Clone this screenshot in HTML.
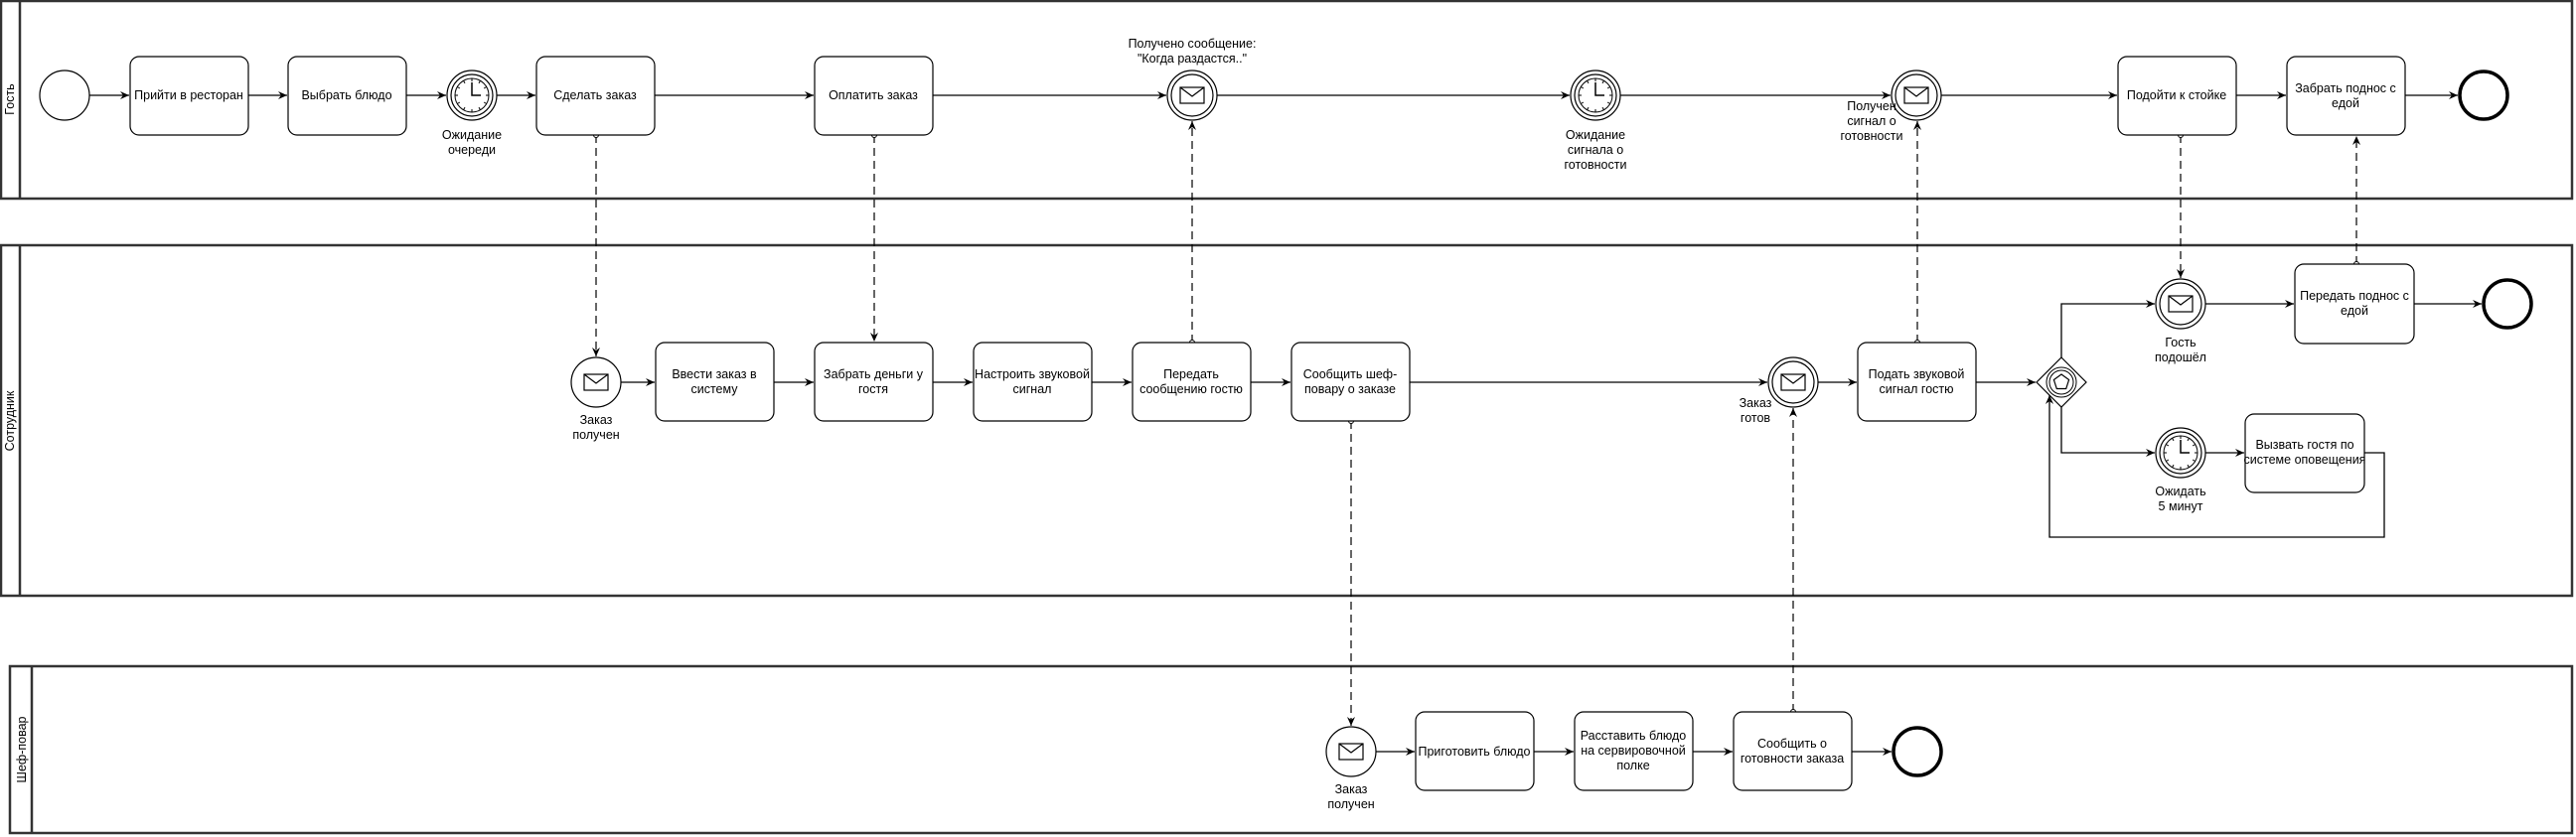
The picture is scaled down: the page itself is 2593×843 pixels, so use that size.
<!DOCTYPE html>
<html><head><meta charset="utf-8"><style>
html,body{margin:0;padding:0;background:#fff;}
svg{display:block;}
text{font-family:"Liberation Sans","DejaVu Sans",sans-serif;font-size:12.5px;fill:#000;}
</style></head><body>
<svg width="2593" height="843" viewBox="0 0 2593 843" xmlns="http://www.w3.org/2000/svg">
<defs>
<marker id="a" markerWidth="10" markerHeight="10" refX="9" refY="5" orient="auto" markerUnits="userSpaceOnUse"><path d="M0,1 L9,5 L0,9 L3,5 z" fill="#000"/></marker>
<marker id="o" markerWidth="8" markerHeight="8" refX="4" refY="4" markerUnits="userSpaceOnUse"><circle cx="4" cy="4" r="2.5" fill="#fff" stroke="#000"/></marker>
<g id="env"><rect x="-12" y="-8" width="24" height="16" fill="#fff" stroke="#000" stroke-width="1.2"/><path d="M-12,-8 L0,1 L12,-8" fill="none" stroke="#000" stroke-width="1.2"/></g>
<g id="clk"><circle r="17" fill="#fff" stroke="#000"/><path d="M0,-13 L0,0 L9,0" fill="none" stroke="#000" stroke-width="1.5"/>
<g stroke="#000"><line x1="0" y1="-17" x2="0" y2="-14"/><line x1="0" y1="17" x2="0" y2="14"/><line x1="-17" y1="0" x2="-14" y2="0"/><line x1="17" y1="0" x2="14" y2="0"/><line x1="8.5" y1="-14.7" x2="7" y2="-12.1"/><line x1="-8.5" y1="14.7" x2="-7" y2="12.1"/><line x1="14.7" y1="8.5" x2="12.1" y2="7"/><line x1="-14.7" y1="-8.5" x2="-12.1" y2="-7"/><line x1="-8.5" y1="-14.7" x2="-7" y2="-12.1"/><line x1="8.5" y1="14.7" x2="7" y2="12.1"/><line x1="-14.7" y1="8.5" x2="-12.1" y2="7"/><line x1="14.7" y1="-8.5" x2="12.1" y2="-7"/></g></g>
<g id="ring"><circle r="25" fill="#fff" stroke="#000" stroke-width="1.2"/><circle r="21" fill="none" stroke="#000" stroke-width="1.2"/></g>
</defs>

<g fill="none" stroke="#333" stroke-width="2.5">
<rect x="1" y="1" width="2588" height="199"/><line x1="20" y1="1" x2="20" y2="200"/>
<rect x="1" y="247" width="2588" height="353"/><line x1="20" y1="247" x2="20" y2="600"/>
<rect x="10" y="671" width="2579" height="168"/><line x1="32" y1="671" x2="32" y2="839"/>
</g>
<text transform="translate(14,100) rotate(-90)" text-anchor="middle">Гость</text>
<text transform="translate(14,424) rotate(-90)" text-anchor="middle">Сотрудник</text>
<text transform="translate(26,755) rotate(-90)" text-anchor="middle">Шеф-повар</text>

<g stroke="#000" stroke-width="1.3" fill="none" marker-end="url(#a)">
<line x1="90" y1="96" x2="130" y2="96"/>
<line x1="250" y1="96" x2="289" y2="96"/>
<line x1="409" y1="96" x2="449" y2="96"/>
<line x1="500" y1="96" x2="539" y2="96"/>
<line x1="659" y1="96" x2="819" y2="96"/>
<line x1="939" y1="96" x2="1174" y2="96"/>
<line x1="1225" y1="96" x2="1580" y2="96"/>
<line x1="1631" y1="96" x2="1903" y2="96"/>
<line x1="1954" y1="96" x2="2131" y2="96"/>
<line x1="2251" y1="96" x2="2301" y2="96"/>
<line x1="2421" y1="96" x2="2474" y2="96"/>
<line x1="625" y1="385" x2="659" y2="385"/>
<line x1="779" y1="385" x2="819" y2="385"/>
<line x1="939" y1="385" x2="979" y2="385"/>
<line x1="1099" y1="385" x2="1139" y2="385"/>
<line x1="1259" y1="385" x2="1299" y2="385"/>
<line x1="1419" y1="385" x2="1779" y2="385"/>
<line x1="1830" y1="385" x2="1869" y2="385"/>
<line x1="1989" y1="385" x2="2049" y2="385"/>
<polyline points="2075,360 2075,306 2169,306"/>
<polyline points="2075,410 2075,456 2169,456"/>
<line x1="2220" y1="306" x2="2309" y2="306"/>
<line x1="2430" y1="306" x2="2498" y2="306"/>
<line x1="2220" y1="456" x2="2259" y2="456"/>
<polyline points="2380,456 2400,456 2400,541 2063,541 2063,398"/>
<line x1="1385" y1="757" x2="1424" y2="757"/>
<line x1="1544" y1="757" x2="1584" y2="757"/>
<line x1="1704" y1="757" x2="1744" y2="757"/>
<line x1="1864" y1="757" x2="1904" y2="757"/>
</g>

<g stroke="#000" stroke-width="1.2" fill="none" stroke-dasharray="8,5" marker-start="url(#o)" marker-end="url(#a)">
<line x1="600" y1="136" x2="600" y2="359"/>
<line x1="880" y1="136" x2="880" y2="344"/>
<line x1="1200" y1="345" x2="1200" y2="122"/>
<line x1="1930" y1="345" x2="1930" y2="122"/>
<line x1="2195" y1="136" x2="2195" y2="280"/>
<line x1="2372" y1="266" x2="2372" y2="137"/>
<line x1="1360" y1="424" x2="1360" y2="731"/>
<line x1="1805" y1="717" x2="1805" y2="411"/>
</g>

<g fill="#fff" stroke="#000" stroke-width="1.2">
<rect x="131" y="57" width="119" height="79" rx="9"/>
<rect x="290" y="57" width="119" height="79" rx="9"/>
<rect x="540" y="57" width="119" height="79" rx="9"/>
<rect x="820" y="57" width="119" height="79" rx="9"/>
<rect x="2132" y="57" width="119" height="79" rx="9"/>
<rect x="2302" y="57" width="119" height="79" rx="9"/>
<rect x="660" y="345" width="119" height="79" rx="9"/>
<rect x="820" y="345" width="119" height="79" rx="9"/>
<rect x="980" y="345" width="119" height="79" rx="9"/>
<rect x="1140" y="345" width="119" height="79" rx="9"/>
<rect x="1300" y="345" width="119" height="79" rx="9"/>
<rect x="1870" y="345" width="119" height="79" rx="9"/>
<rect x="2310" y="266" width="120" height="80" rx="9"/>
<rect x="2260" y="417" width="120" height="79" rx="9"/>
<rect x="1425" y="717" width="119" height="79" rx="9"/>
<rect x="1585" y="717" width="119" height="79" rx="9"/>
<rect x="1745" y="717" width="119" height="79" rx="9"/>
</g>
<g text-anchor="middle">
<text x="190" y="100">Прийти в ресторан</text>
<text x="349" y="100">Выбрать блюдо</text>
<text x="599" y="100">Сделать заказ</text>
<text x="879" y="100">Оплатить заказ</text>
<text x="2191" y="100">Подойти к стойке</text>
<text x="2361" y="93">Забрать поднос с</text><text x="2361" y="108">едой</text>
<text x="719" y="381">Ввести заказ в</text><text x="719" y="396">систему</text>
<text x="879" y="381">Забрать деньги у</text><text x="879" y="396">гостя</text>
<text x="1039" y="381">Настроить звуковой</text><text x="1039" y="396">сигнал</text>
<text x="1199" y="381">Передать</text><text x="1199" y="396">сообщению гостю</text>
<text x="1359" y="381">Сообщить шеф-</text><text x="1359" y="396">повару о заказе</text>
<text x="1929" y="381">Подать звуковой</text><text x="1929" y="396">сигнал гостю</text>
<text x="2370" y="302">Передать поднос с</text><text x="2370" y="317">едой</text>
<text x="2320" y="452">Вызвать гостя по</text><text x="2320" y="467">системе оповещения</text>
<text x="1484" y="761">Приготовить блюдо</text>
<text x="1644" y="745">Расставить блюдо</text><text x="1644" y="760">на сервировочной</text><text x="1644" y="775">полке</text>
<text x="1804" y="753">Сообщить о</text><text x="1804" y="768">готовности заказа</text>
</g>

<circle cx="65" cy="96" r="25" fill="#fff" stroke="#000" stroke-width="1.2"/>
<circle cx="2500" cy="96" r="24" fill="#fff" stroke="#000" stroke-width="3.5"/>
<circle cx="2524" cy="306" r="24" fill="#fff" stroke="#000" stroke-width="3.5"/>
<circle cx="1930" cy="757" r="24" fill="#fff" stroke="#000" stroke-width="3.5"/>

<g transform="translate(475,96)"><use href="#ring"/><use href="#clk"/></g>
<g transform="translate(1200,96)"><use href="#ring"/><use href="#env"/></g>
<g transform="translate(1606,96)"><use href="#ring"/><use href="#clk"/></g>
<g transform="translate(1929,96)"><use href="#ring"/><use href="#env"/></g>
<g transform="translate(1805,385)"><use href="#ring"/><use href="#env"/></g>
<g transform="translate(2195,306)"><use href="#ring"/><use href="#env"/></g>
<g transform="translate(2195,456)"><use href="#ring"/><use href="#clk"/></g>
<g transform="translate(600,385)"><circle r="25" fill="#fff" stroke="#000" stroke-width="1.2"/><use href="#env"/></g>
<g transform="translate(1360,757)"><circle r="25" fill="#fff" stroke="#000" stroke-width="1.2"/><use href="#env"/></g>

<g transform="translate(2075,385)">
<path d="M0,-25 L25,0 L0,25 L-25,0 Z" fill="#fff" stroke="#000" stroke-width="1.2"/>
<circle r="15" fill="none" stroke="#000"/><circle r="12" fill="none" stroke="#000"/>
<path d="M0,-8 L7.6,-2.5 L4.7,6.5 L-4.7,6.5 L-7.6,-2.5 Z" fill="none" stroke="#000" stroke-width="1.2"/>
</g>

<g text-anchor="middle">
<text x="475" y="140">Ожидание</text><text x="475" y="155">очереди</text>
<text x="1200" y="48">Получено сообщение:</text><text x="1200" y="63">"Когда раздастся.."</text>
<text x="1606" y="140">Ожидание</text><text x="1606" y="155">сигнала о</text><text x="1606" y="170">готовности</text>
<text x="1884" y="111">Получен</text><text x="1884" y="126">сигнал о</text><text x="1884" y="141">готовности</text>
<text x="600" y="427">Заказ</text><text x="600" y="442">получен</text>
<text x="1767" y="410">Заказ</text><text x="1767" y="425">готов</text>
<text x="2195" y="349">Гость</text><text x="2195" y="364">подошёл</text>
<text x="2195" y="499">Ожидать</text><text x="2195" y="514">5 минут</text>
<text x="1360" y="799">Заказ</text><text x="1360" y="814">получен</text>
</g>
</svg>
</body></html>
